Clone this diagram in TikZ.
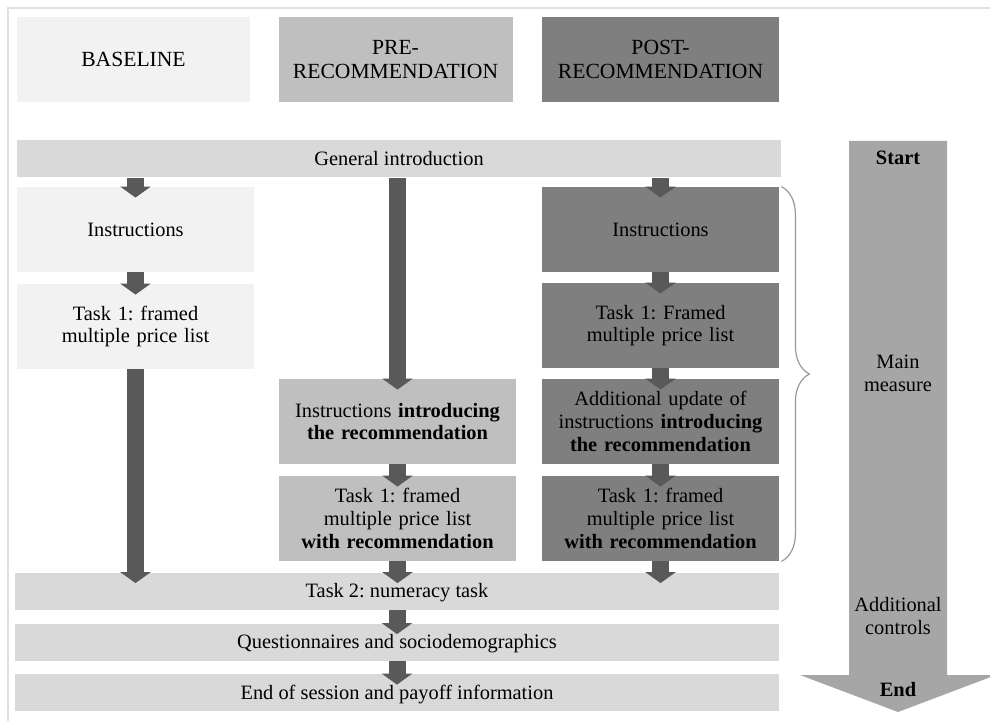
\documentclass[tikz,border=0pt]{standalone}
\usepackage{fontspec}
\setmainfont{Liberation Serif}
\usepackage{xcolor}
\usetikzlibrary{arrows.meta,decorations.pathreplacing}

\definecolor{framegray}{HTML}{E0E0E0}
\definecolor{basefill}{HTML}{F2F2F2}
\definecolor{prefill}{HTML}{BFBFBF}
\definecolor{postfill}{HTML}{7F7F7F}
\definecolor{barfill}{HTML}{D9D9D9}
\definecolor{arrowgray}{HTML}{595959}
\definecolor{timefill}{HTML}{A6A6A6}
\definecolor{bracegray}{HTML}{9A9A9A}

\begin{document}
\frenchspacing
\begin{tikzpicture}[x=0.5pt, y=-0.5pt, font=\fontsize{10.2}{11.4}\selectfont,
    box/.style={rectangle, inner sep=0pt, align=center, text width=112pt, minimum width=118.5pt, minimum height=42.5pt},
    header/.style={box, minimum width=117pt, font=\fontsize{10.8}{12}\selectfont},
    bar/.style={rectangle, inner sep=0pt, fill=barfill, minimum width=382pt, minimum height=18.5pt, text height=6.8pt, text depth=0pt},
    flow/.style={draw=arrowgray, line width=8.5pt, -{Triangle[width=15pt,length=5.5pt]}, shorten >=-5.5pt}]
    \useasboundingbox (0,0) rectangle (990,721);
    \draw[framegray, line width=0.8pt] (8,8) rectangle (1000,740);

    % Treatment headers
    \node[header, fill=basefill, minimum width=116.5pt] (baseline) at (133.5,59.5) {BASELINE};
    \node[header, fill=prefill] (prerec) at (395.5,59.5) {PRE-\\RECOMMENDATION};
    \node[header, fill=postfill, minimum width=118.5pt] (postrec) at (660.5,59.5) {POST-\\RECOMMENDATION};

    % Common start
    \node[bar, minimum width=382pt] (intro) at (399,159) {General introduction};

    % Baseline column
    \node[box, fill=basefill] (baseinstr) at (135.5,229.5) {Instructions};
    \node[box, fill=basefill] (basetask) at (135.5,326.5) {Task 1: framed\\multiple price list};

    % Pre-recommendation column
    \node[box, fill=prefill] (preinstr) at (397.5,421.5) {Instructions \textbf{introducing the recommendation}};
    \node[box, fill=prefill] (pretask) at (397.5,518.5) {Task 1: framed\\multiple price list\\\textbf{with recommendation}};

    % Post-recommendation column
    \node[box, fill=postfill] (postinstr) at (660.5,229.5) {Instructions};
    \node[box, fill=postfill] (posttask) at (660.5,325.5) {Task 1: Framed\\multiple price list};
    \node[box, fill=postfill] (postupdate) at (660.5,421.5) {Additional update of instructions \textbf{introducing the recommendation}};
    \node[box, fill=postfill] (postrectask) at (660.5,518.5) {Task 1: framed\\multiple price list\\\textbf{with recommendation}};

    % Common end
    \node[bar] (numeracy) at (397,591) {Task 2: numeracy task};
    \node[bar] (questions) at (397,642) {Questionnaires and sociodemographics};
    \node[bar] (payoff) at (397,692.5) {End of session and payoff information};

    % Flow arrows
    \draw[flow] (baseinstr.north |- intro.south) -- (baseinstr.north);
    \draw[flow] (baseinstr) -- (basetask);
    \draw[flow] (basetask.south) -- (basetask.south |- numeracy.north);
    \draw[flow] (preinstr.north |- intro.south) -- (preinstr.north);
    \draw[flow] (preinstr) -- (pretask);
    \draw[flow] (pretask.south) -- (pretask.south |- numeracy.north);
    \draw[flow] (postinstr.north |- intro.south) -- (postinstr.north);
    \draw[flow] (postinstr) -- (posttask);
    \draw[flow] (posttask) -- (postupdate);
    \draw[flow] (postupdate) -- (postrectask);
    \draw[flow] (postrectask.south) -- (postrectask.south |- numeracy.north);
    \draw[flow] (numeracy) -- (questions);
    \draw[flow] (questions) -- (payoff);

    % Brace over the main measure
    \draw[bracegray, line width=0.6pt, decorate, decoration={brace, amplitude=14pt}]
        ([xshift=1pt]postinstr.north east) -- ([xshift=1pt]postrectask.south east);

    % Time line
    \fill[timefill] (849,141) -- (947,141) -- (947,675) -- (996,675) -- (898,712) -- (800,675) -- (849,675) -- cycle;
    \node[font=\fontsize{10.2}{11.4}\selectfont\bfseries] (start) at (898,158) {Start};
    \node[align=center] (mainm) at (898,373) {Main\\measure};
    \node[align=center] (addc) at (898,616) {Additional\\controls};
    \node[font=\fontsize{10.2}{11.4}\selectfont\bfseries] (finish) at (898,690) {End};
\end{tikzpicture}
\end{document}
